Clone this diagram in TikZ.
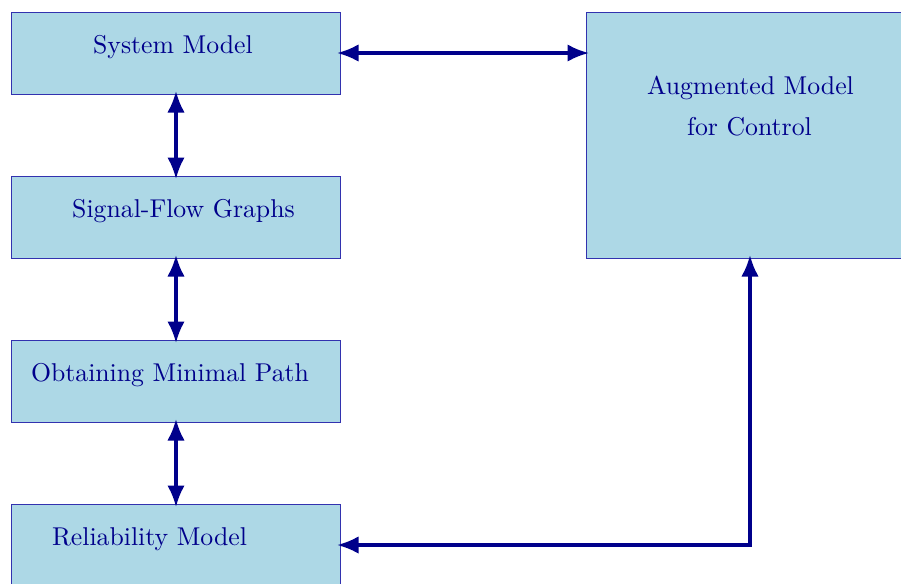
\documentclass[tikz,border=0pt]{standalone}
\usetikzlibrary{arrows.meta}
\definecolor{boxfill}{RGB}{173,216,230}
\definecolor{dblue}{RGB}{0,0,139}
\definecolor{boxline}{RGB}{50,50,175}
\begin{document}
\begin{tikzpicture}[x=0.4pt,y=-0.4pt,
  box/.style={draw=boxline,line width=0.4pt,fill=boxfill,rectangle,inner sep=0pt,outer sep=0pt,minimum width=131.2pt},
  lbl/.style={text=dblue,anchor=base,inner sep=0pt,font=\fontsize{10.3}{12.4}\selectfont},
  conn/.style={draw=dblue,line width=1.3pt,shorten <=-1.2pt,shorten >=-1.2pt,{Latex[length=8.6pt,width=7pt]}-{Latex[length=8.6pt,width=7pt]}}]
\useasboundingbox (0,0) rectangle (901,583);
\node[box,minimum height=32.8pt] (sm) at (176,53) {};
\node[box,minimum height=32.8pt] (sf) at (176,217) {};
\node[box,minimum height=32.8pt] (om) at (176,381) {};
\node[box,minimum height=32.8pt] (rm) at (176,545) {};
\node[box,minimum height=98.4pt] (am) at (750,135) {};
\node[lbl] (tsm) at (173,53) {System Model};
\node[lbl] (tsf) at (183.5,217) {Signal-Flow Graphs};
\node[lbl] (tom) at (170,381) {Obtaining Minimal Path};
\node[lbl] (trm) at (149.5,545) {Reliability Model};
\node[lbl] (tam1) at (750.5,94) {Augmented Model};
\node[lbl] (tam2) at (749.5,135) {for Control};
\draw[conn] (sm.east) -- (am.west |- sm.east);
\draw[conn] (sm.south) -- (sf.north);
\draw[conn] (sf.south) -- (om.north);
\draw[conn] (om.south) -- (rm.north);
\draw[conn] (am.south) |- (rm.east);
\end{tikzpicture}
\end{document}
